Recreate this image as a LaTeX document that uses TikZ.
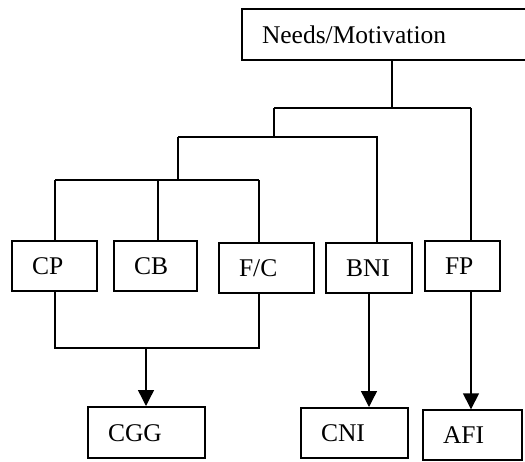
\documentclass[tikz,border=0pt]{standalone}
\usepackage{fontspec}
\setmainfont{Liberation Serif}
\usetikzlibrary{arrows.meta}
\begin{document}
\begin{tikzpicture}[x=1pt,y=-1pt,
  box/.style={draw, line width=1.4pt, rectangle, inner xsep=20pt, inner ysep=0pt,
    align=left, text height=17pt, text depth=0pt,
    font=\fontsize{25.5}{30}\selectfont},
  heavy/.style={line width=2pt},
  link/.style={line width=1.4pt},
  arrowlink/.style={line width=1.4pt, -{Triangle[width=16pt,length=16pt]}}]
\useasboundingbox (0,0) rectangle (525,461);
\clip (0,0) rectangle (525,461);

% boxes
\node[box, text width=246pt, minimum height=51pt] (need) at (385,34.5) {Needs/Motivation};
\node[box, text width=45pt, minimum height=50pt] (cp)  at (54.5,266) {CP};
\node[box, text width=43pt, minimum height=50pt] (cb)  at (155.5,266) {CB};
\node[box, text width=55pt, minimum height=50pt] (fc)  at (266.5,268) {F/C};
\node[box, text width=46pt, minimum height=50pt] (bni) at (369,268) {BNI};
\node[box, text width=35pt, minimum height=50pt] (fp)  at (462.5,266) {FP};
\node[box, heavy, text width=77pt, minimum height=51pt] (cgg) at (146.5,432.5) {CGG};
\node[box, heavy, text width=67pt, minimum height=50pt] (cni) at (354.5,433) {CNI};
\node[box, text width=59pt, minimum height=50pt] (afi) at (472.5,435) {AFI};

% junction points of the tree
\coordinate (top)   at (392,108);
\coordinate (topl)  at (274,108);
\coordinate (topr)  at (471,108);
\coordinate (midl)  at (178,137);
\coordinate (midm)  at (274,137);
\coordinate (midr)  at (377,137);
\coordinate (lowm)  at (178,180);
\coordinate (lowl)  at (55,180);
\coordinate (lowc)  at (158,180);
\coordinate (lowr)  at (259,180);
\coordinate (botl)  at (55,348);
\coordinate (botr)  at (259,348);
\coordinate (botm)  at (146,348);
\coordinate (bnix)  at (369,0);

% upper tree
\draw[link] (need.south -| top) -- (top);
\draw[link] (topl) -- (topr);
\draw[link] (topl) -- (midm);
\draw[link] (topr) -- (fp.north -| topr);
\draw[link] (midl) -- (midr) -- (bni.north -| midr);
\draw[link] (midl) -- (lowm);
\draw[link] (lowl) -- (lowr);
\draw[link] (lowl) -- (cp.north -| lowl);
\draw[link] (lowc) -- (cb.north -| lowc);
\draw[link] (lowr) -- (fc.north -| lowr);

% lower joins and arrows
\draw[link] (cp.south -| botl) -- (botl) -- (botr) -- (fc.south -| botr);
\draw[arrowlink] (botm) -- (cgg.north -| botm);
\draw[arrowlink] (bni.south -| bnix) -- (cni.north -| bnix);
\draw[arrowlink] (fp.south -| topr) -- (afi.north -| topr);
\end{tikzpicture}
\end{document}
